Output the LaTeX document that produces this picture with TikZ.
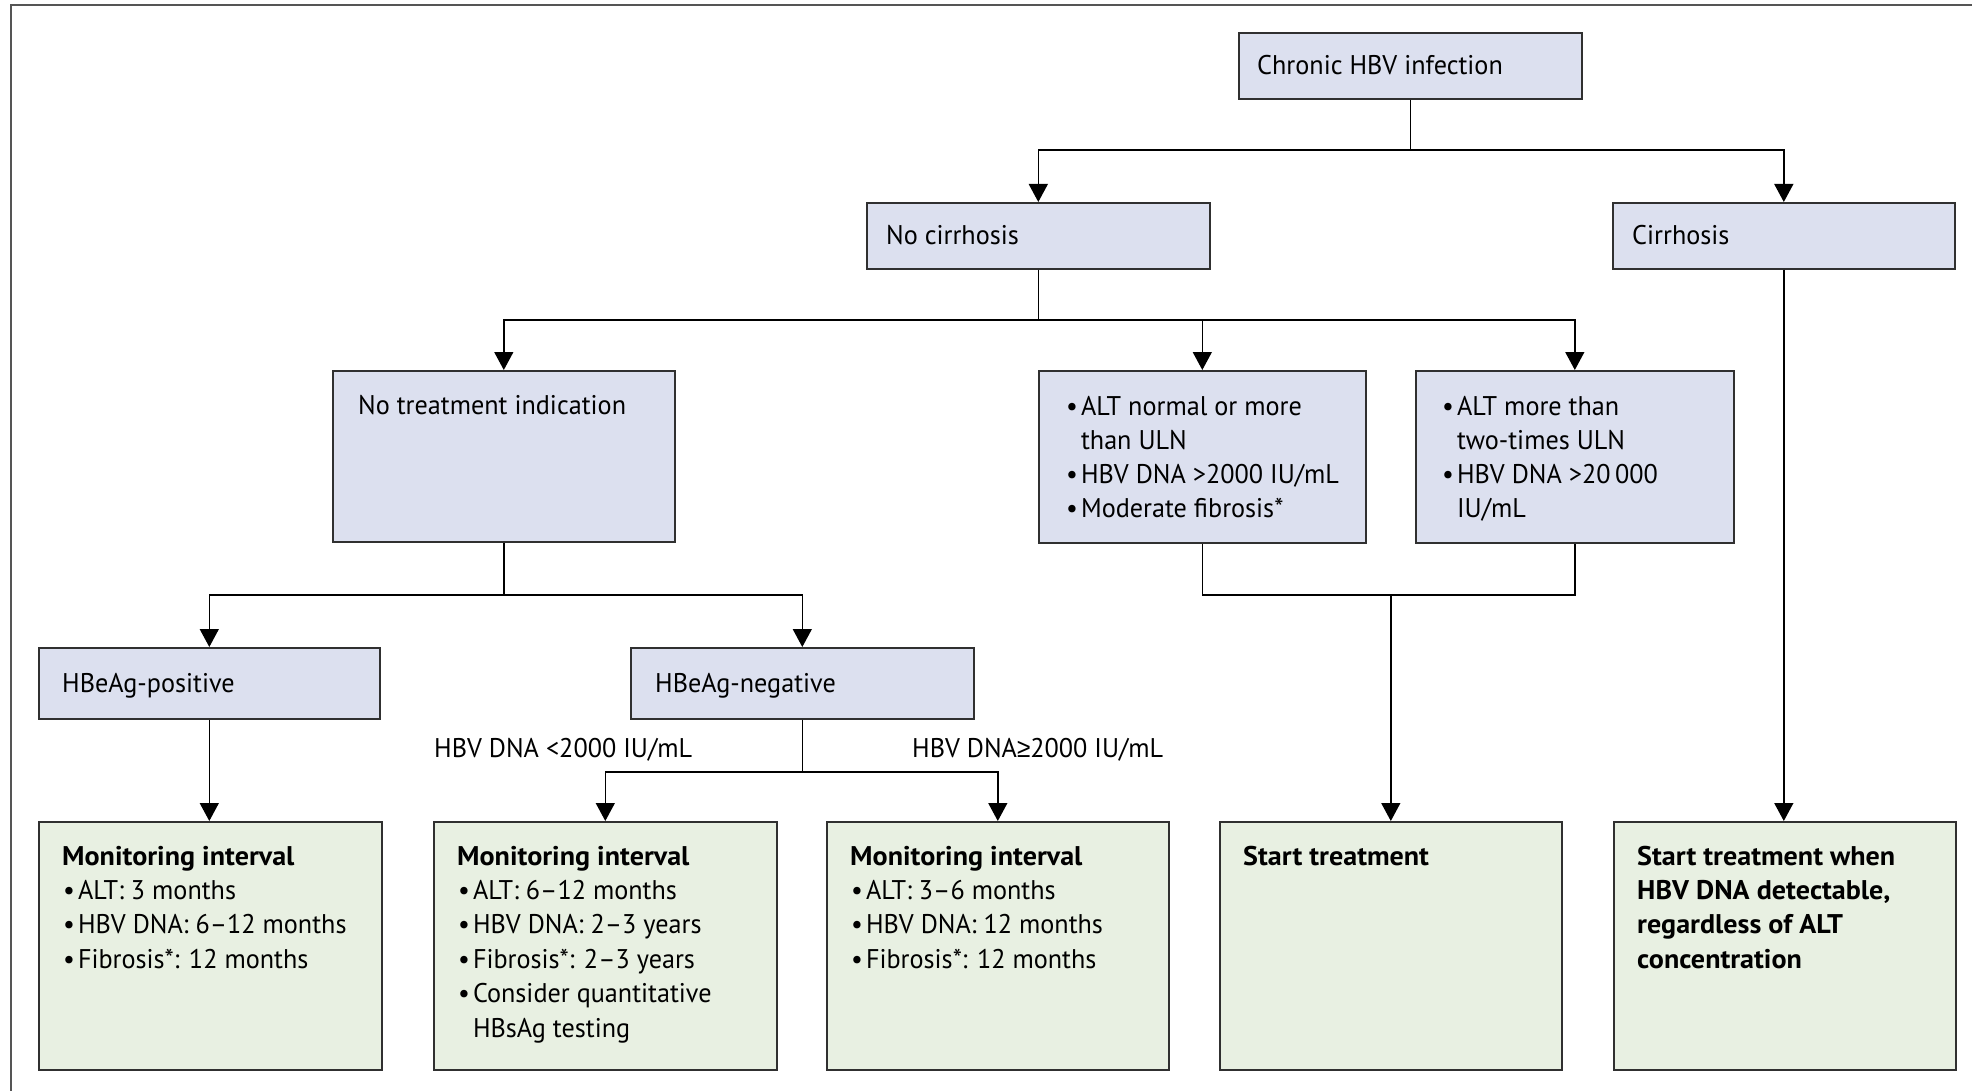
\documentclass[tikz,border=0pt]{standalone}
\usepackage{fontspec}
\setmainfont{PT Sans}[FakeStretch=0.97, BoldFeatures={FakeStretch=1.04}]
\newfontfamily\symfont{Liberation Sans}[FakeStretch=0.9]
\usetikzlibrary{arrows.meta}
\definecolor{bluefill}{HTML}{DCE0EF}
\definecolor{greenfill}{HTML}{E8F0E2}
\definecolor{frameline}{HTML}{555555}
\definecolor{boxline}{HTML}{303030}
\newcommand\bul{\textbullet\hspace{3pt}}
\newcommand\bulsp{\hphantom{\textbullet\hspace{3pt}}}
\begin{document}
\begin{tikzpicture}[x=1pt,y=-1pt,
  bluebox/.style={draw=boxline, fill=bluefill, line width=1.6pt, inner sep=0pt, anchor=north west},
  greenbox/.style={draw=boxline, fill=greenfill, line width=1.6pt, inner sep=0pt, anchor=north west},
  txt/.style={inner sep=0pt, anchor=base west, font=\fontsize{27}{32}\selectfont},
  btxt/.style={txt, font=\fontsize{27}{32}\selectfont\bfseries},
  conn/.style={draw=black, line width=1.5pt},
  arr/.style={conn, -{Triangle[width=19pt,length=18pt]}}]
\useasboundingbox (0,0) rectangle (1972,1091);
% frame
\draw[frameline, line width=1.4pt] (11,1095) -- (11,5) -- (1976,5);
% boxes
\node[bluebox, minimum width=343, minimum height=66] (chronic) at (1238,32) {};
\node[bluebox, minimum width=343, minimum height=66] (nocirr) at (866,202) {};
\node[bluebox, minimum width=342, minimum height=66] (cirr) at (1612,202) {};
\node[bluebox, minimum width=342, minimum height=171] (notreat) at (332,370) {};
\node[bluebox, minimum width=327, minimum height=172] (altn) at (1038,370) {};
\node[bluebox, minimum width=318, minimum height=172] (altm) at (1415,370) {};
\node[bluebox, minimum width=341, minimum height=71] (hpos) at (38,647) {};
\node[bluebox, minimum width=343, minimum height=71] (hneg) at (630,647) {};
\node[greenbox, minimum width=343, minimum height=248] (mon1) at (38,821) {};
\node[greenbox, minimum width=343, minimum height=248] (mon2) at (433,821) {};
\node[greenbox, minimum width=342, minimum height=248] (mon3) at (826,821) {};
\node[greenbox, minimum width=342, minimum height=248] (start) at (1219,821) {};
\node[greenbox, minimum width=342, minimum height=248] (last) at (1613,821) {};
% texts
\node[txt] (t-chronic) at (1257,75) {Chronic HBV infection};
\node[txt] (t-nocirr) at (886,245) {No cirrhosis};
\node[txt] (t-cirr) at (1632,245) {Cirrhosis};
\node[txt] (t-notreat) at (358,414) {No treatment indication};
\node[txt] (t-altn1) at (1066,415) {\bul ALT normal or more};
\node[txt] (t-altn2) at (1066,449) {\bulsp than ULN};
\node[txt] (t-altn3) at (1066,483) {\bul HBV DNA >2000 IU/mL};
\node[txt] (t-altn4) at (1066,517) {\bul Moderate fibrosis*};
\node[txt] (t-altm1) at (1442,415) {\bul ALT more than};
\node[txt] (t-altm2) at (1442,449) {\bulsp two-times ULN};
\node[txt] (t-altm3) at (1442,483) {\bul HBV DNA >20\,000};
\node[txt] (t-altm4) at (1442,517) {\bulsp IU/mL};
\node[txt] (t-hpos) at (62,692) {HBeAg-positive};
\node[txt] (t-hneg) at (655,692) {HBeAg-negative};
\node[txt] (t-lo) at (434,757) {HBV DNA <2000 IU/mL};
\node[txt] (t-hi) at (912,757) {HBV DNA{\symfont ≥}2000 IU/mL};
% monitoring 1
\node[btxt] (t-m1a) at (62,865) {Monitoring interval};
\node[txt] (t-m1b) at (63,899) {\bul ALT: 3 months};
\node[txt] (t-m1c) at (63,933) {\bul HBV DNA: 6–12 months};
\node[txt] (t-m1d) at (63,968) {\bul Fibrosis*: 12 months};
% monitoring 2
\node[btxt] (t-m2a) at (457,865) {Monitoring interval};
\node[txt] (t-m2b) at (458,899) {\bul ALT: 6–12 months};
\node[txt] (t-m2c) at (458,933) {\bul HBV DNA: 2–3 years};
\node[txt] (t-m2d) at (458,968) {\bul Fibrosis*: 2–3 years};
\node[txt] (t-m2e) at (458,1002) {\bul Consider quantitative};
\node[txt] (t-m2f) at (458,1037) {\bulsp HBsAg testing};
% monitoring 3
\node[btxt] (t-m3a) at (850,865) {Monitoring interval};
\node[txt] (t-m3b) at (851,899) {\bul ALT: 3–6 months};
\node[txt] (t-m3c) at (851,933) {\bul HBV DNA: 12 months};
\node[txt] (t-m3d) at (851,968) {\bul Fibrosis*: 12 months};
% start
\node[btxt] (t-start) at (1243,865) {Start treatment};
\node[btxt] (t-l1) at (1637,865) {Start treatment when};
\node[btxt] (t-l2) at (1637,899) {HBV DNA detectable,};
\node[btxt] (t-l3) at (1637,933) {regardless of ALT};
\node[btxt] (t-l4) at (1637,968) {concentration};
% connectors
\coordinate (ya) at (0,150);
\coordinate (yb) at (0,320);
\coordinate (yc) at (0,595);
\coordinate (yd) at (0,772);
\draw[conn] (chronic.south) -- (chronic.south |- ya);
\draw[arr] (chronic.south |- ya) -| (nocirr.north);
\draw[arr] (chronic.south |- ya) -| (cirr.north);
\draw[conn] (nocirr.south) -- (nocirr.south |- yb);
\draw[arr] (nocirr.south |- yb) -| (notreat.north);
\draw[arr] (nocirr.south |- yb) -| (altn.north);
\draw[arr] (nocirr.south |- yb) -| (altm.north);
\draw[conn] (notreat.south) -- (notreat.south |- yc);
\draw[arr] (notreat.south |- yc) -| (hpos.north);
\draw[arr] (notreat.south |- yc) -| (hneg.north);
\draw[arr] (hpos.south) -- (hpos.south |- mon1.north);
\draw[conn] (hneg.south) -- (hneg.south |- yd);
\draw[arr] (hneg.south |- yd) -| (mon2.north);
\draw[arr] (hneg.south |- yd) -| (mon3.north);
\draw[conn] (altn.south) |- (start.north |- yc) -| (altm.south);
\draw[arr] (start.north |- yc) -- (start.north);
\draw[arr] (cirr.south) -- (cirr.south |- last.north);
\end{tikzpicture}
\end{document}
